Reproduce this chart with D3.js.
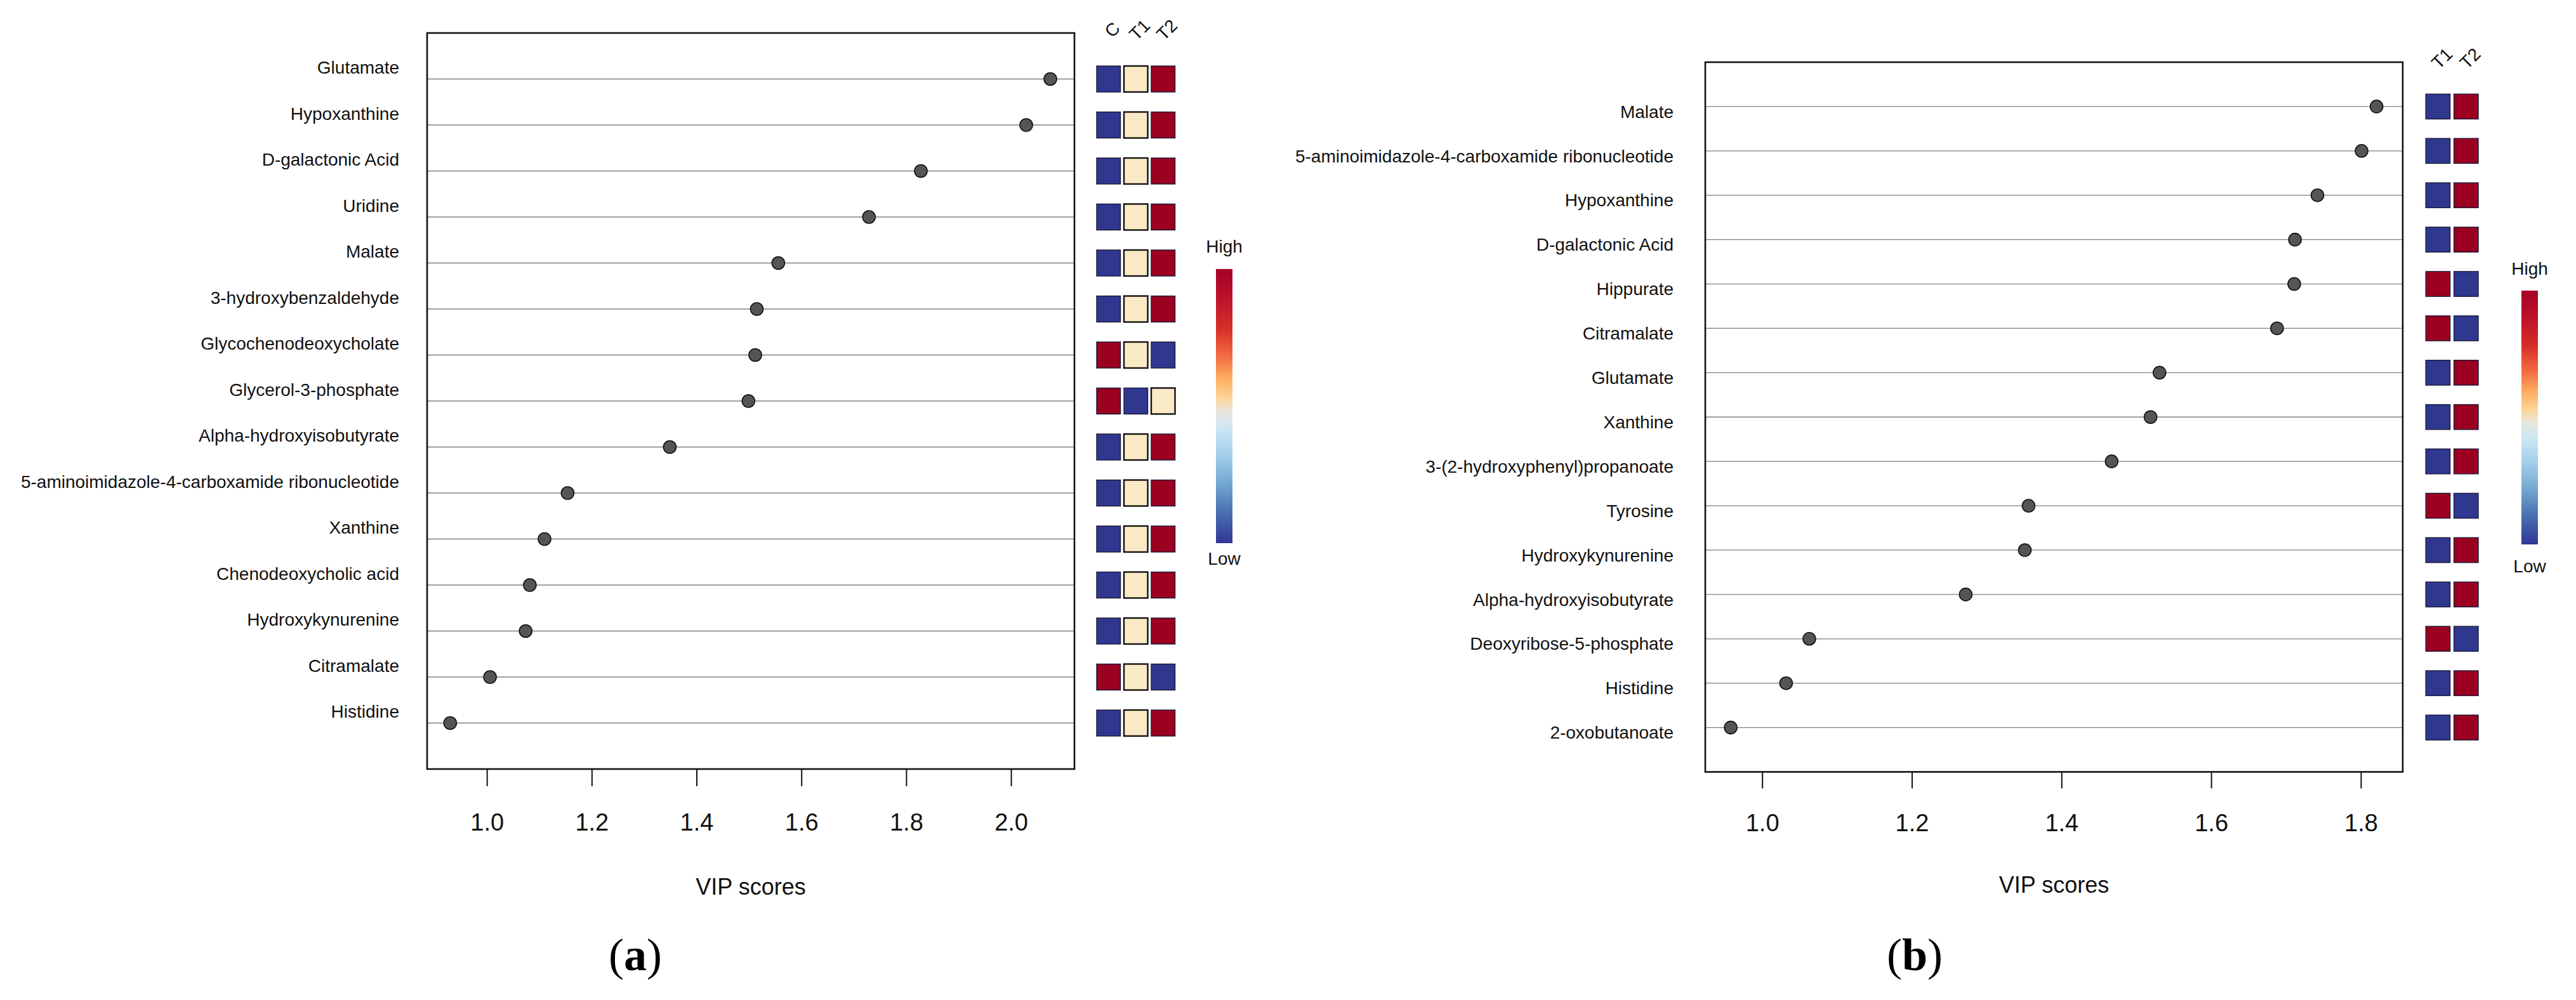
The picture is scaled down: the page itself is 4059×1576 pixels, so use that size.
<!DOCTYPE html>
<html>
<head>
<meta charset="utf-8">
<script src="https://cdn.jsdelivr.net/npm/d3@7"></script>
<style>
  html, body { margin: 0; padding: 0; background: #fff; }
  svg { display: block; }
</style>
</head>
<body>
<svg id="chart" width="4059" height="1576"></svg>
<script>
// ---------------- DATA ----------------
const namesA = ["Glutamate","Hypoxanthine","D-galactonic Acid","Uridine","Malate",
  "3-hydroxybenzaldehyde","Glycochenodeoxycholate","Glycerol-3-phosphate",
  "Alpha-hydroxyisobutyrate","5-aminoimidazole-4-carboxamide ribonucleotide",
  "Xanthine","Chenodeoxycholic acid","Hydroxykynurenine","Citramalate","Histidine"];
const vipA = [2.075, 2.029, 1.828, 1.729, 1.556, 1.515, 1.512, 1.499, 1.349, 1.154,
  1.110, 1.082, 1.074, 1.006, 0.930];
const groupsA = ["C", "T1", "T2"];
// relative level per group: -1 low, 0 middle, 1 high
const heatA = [[-1,0,1],[-1,0,1],[-1,0,1],[-1,0,1],[-1,0,1],[-1,0,1],[1,0,-1],[1,-1,0],
  [-1,0,1],[-1,0,1],[-1,0,1],[-1,0,1],[-1,0,1],[1,0,-1],[-1,0,1]];
const ticksA = [1.0, 1.2, 1.4, 1.6, 1.8, 2.0];

const namesB = ["Malate","5-aminoimidazole-4-carboxamide ribonucleotide","Hypoxanthine",
  "D-galactonic Acid","Hippurate","Citramalate","Glutamate","Xanthine",
  "3-(2-hydroxyphenyl)propanoate","Tyrosine","Hydroxykynurenine",
  "Alpha-hydroxyisobutyrate","Deoxyribose-5-phosphate","Histidine","2-oxobutanoate"];
const vipB = [1.821, 1.801, 1.742, 1.712, 1.711, 1.688, 1.531, 1.519, 1.467, 1.356,
  1.351, 1.272, 1.063, 1.032, 0.958];
const groupsB = ["T1", "T2"];
const heatB = [[-1,1],[-1,1],[-1,1],[-1,1],[1,-1],[1,-1],[-1,1],[-1,1],[-1,1],[1,-1],
  [-1,1],[-1,1],[1,-1],[-1,1],[-1,1]];
const ticksB = [1.0, 1.2, 1.4, 1.6, 1.8];

const xLabel = "VIP scores";
const legendLabels = ["High", "Low"];
const panelLabels = ["a", "b"];

// ---------------- STYLE / LAYOUT ----------------
const levelColor = d3.scaleOrdinal().domain([-1, 0, 1]).range(["#2f378f", "#f9e9c4", "#9b0020"]);
const barStops = [
  [0, "#a50026"], [0.12, "#c0152b"], [0.22, "#d73027"], [0.32, "#f46d43"],
  [0.40, "#fdae61"], [0.47, "#fdd49a"], [0.52, "#e9e5df"], [0.58, "#cde7f5"],
  [0.68, "#a3cde8"], [0.78, "#74a9d1"], [0.88, "#4a74b2"], [1, "#313695"]
];
const SANS = "'Liberation Sans', Arial, 'DejaVu Sans', sans-serif";
const SERIF = "'Liberation Serif', 'Times New Roman', 'DejaVu Serif', serif";

const panels = [
  { names: namesA, vip: vipA, groups: groupsA, heat: heatA, ticks: ticksA, label: panelLabels[0],
    box: [673, 52, 1693, 1212], xdom: [0.886, 2.121],
    labelRight: 629, labelDy: -8.5,
    hmRange: [1725.25, 1854.25], hmPad: 0.128, cellH: 41,
    colLabY: 47, colLabDx: 6,
    bar: [1916, 424, 1942, 856], highY: 388, lowY: 880,
    tickLen: 27, tickPad: 43, titleY: 1410, panelX: 1001, panelY: 1529 },
  { names: namesB, vip: vipB, groups: groupsB, heat: heatB, ticks: ticksB, label: panelLabels[1],
    box: [2687, 98, 3786, 1216.5], xdom: [0.924, 1.856],
    labelRight: 2637, labelDy: 17.7,
    hmRange: [3819.25, 3908.05], hmPad: 0.137, cellH: 39.3,
    colLabY: 92, colLabDx: 6.5,
    bar: [3973, 458, 3999, 858], highY: 423, lowY: 892,
    tickLen: 26, tickPad: 41, titleY: 1407, panelX: 3017, panelY: 1529 }
];

const svg = d3.select("#chart");
svg.append("rect").attr("width", 4059).attr("height", 1576).attr("fill", "#fff");
const defs = svg.append("defs");

panels.forEach((p, pi) => {
  const [x0, y0, x1, y1] = p.box;
  const x = d3.scaleLinear().domain(p.xdom).range([x0, x1]);
  const y = d3.scalePoint().domain(p.names).range([y0, y1]).padding(1);
  const g = svg.append("g");

  // row lines
  g.selectAll("line.row").data(p.names).join("line")
    .attr("x1", x0).attr("x2", x1)
    .attr("y1", d => y(d)).attr("y2", d => y(d))
    .attr("stroke", "#808080").attr("stroke-width", 1.3);

  // row labels
  g.selectAll("text.rowlab").data(p.names).join("text")
    .attr("x", p.labelRight).attr("y", d => y(d) + p.labelDy)
    .attr("text-anchor", "end")
    .attr("font-family", SANS).attr("font-size", 28).attr("fill", "#111")
    .text(d => d);

  // points
  g.selectAll("circle.pt").data(p.vip).join("circle")
    .attr("cx", d => x(d)).attr("cy", (d, i) => y(p.names[i]))
    .attr("r", 10).attr("fill", "#555555").attr("stroke", "#111").attr("stroke-width", 1.6);

  // frame
  g.append("rect").attr("x", x0).attr("y", y0).attr("width", x1 - x0).attr("height", y1 - y0)
    .attr("fill", "none").attr("stroke", "#111").attr("stroke-width", 2.6);

  // x axis
  const ax = g.append("g").attr("transform", `translate(0,${y1})`)
    .call(d3.axisBottom(x).tickValues(p.ticks).tickFormat(d3.format(".1f"))
      .tickSize(p.tickLen).tickPadding(p.tickPad));
  ax.select(".domain").remove();
  ax.selectAll(".tick line").attr("stroke", "#111").attr("stroke-width", 2);
  ax.selectAll(".tick text").attr("font-family", SANS).attr("font-size", 38).attr("fill", "#111");

  g.append("text").attr("x", (x0 + x1) / 2).attr("y", p.titleY)
    .attr("text-anchor", "middle").attr("font-family", SANS).attr("font-size", 36)
    .attr("fill", "#111").text(xLabel);

  // heat cells
  const hx = d3.scaleBand().domain(p.groups).range(p.hmRange)
    .paddingInner(p.hmPad).paddingOuter(p.hmPad / 2);
  p.heat.forEach((row, i) => {
    g.selectAll(null).data(row).join("rect")
      .attr("x", (d, j) => hx(p.groups[j]))
      .attr("y", y(p.names[i]) - p.cellH / 2)
      .attr("width", hx.bandwidth()).attr("height", p.cellH)
      .attr("fill", d => levelColor(d))
      .attr("stroke", d => d === 0 ? "#111" : "#1c1c3a")
      .attr("stroke-width", d => d === 0 ? 2.4 : 1.4);
  });

  // column labels
  g.selectAll("text.col").data(p.groups).join("text")
    .attr("transform", d => `translate(${hx(d) + hx.bandwidth() / 2 + p.colLabDx},${p.colLabY}) rotate(-45)`)
    .attr("text-anchor", "middle").attr("dominant-baseline", "central")
    .attr("font-family", SANS).attr("font-size", 28).attr("fill", "#111")
    .text(d => d);

  // colour bar
  const gid = "grad" + pi;
  const grad = defs.append("linearGradient").attr("id", gid)
    .attr("x1", 0).attr("y1", 0).attr("x2", 0).attr("y2", 1);
  grad.selectAll("stop").data(barStops).join("stop")
    .attr("offset", d => d[0]).attr("stop-color", d => d[1]);
  const [bx0, by0, bx1, by1] = p.bar;
  g.append("rect").attr("x", bx0).attr("y", by0).attr("width", bx1 - bx0).attr("height", by1 - by0)
    .attr("fill", `url(#${gid})`);
  g.append("text").attr("x", (bx0 + bx1) / 2).attr("y", p.highY)
    .attr("text-anchor", "middle").attr("dominant-baseline", "central")
    .attr("font-family", SANS).attr("font-size", 28).attr("fill", "#111").text(legendLabels[0]);
  g.append("text").attr("x", (bx0 + bx1) / 2).attr("y", p.lowY)
    .attr("text-anchor", "middle").attr("dominant-baseline", "central")
    .attr("font-family", SANS).attr("font-size", 28).attr("fill", "#111").text(legendLabels[1]);

  // panel label (a)/(b)
  const t = g.append("text").attr("x", p.panelX).attr("y", p.panelY)
    .attr("text-anchor", "middle").attr("font-family", SERIF).attr("font-size", 72).attr("fill", "#000");
  t.append("tspan").text("(");
  t.append("tspan").attr("font-weight", "bold").text(p.label);
  t.append("tspan").text(")");
});
</script>
</body>
</html>
